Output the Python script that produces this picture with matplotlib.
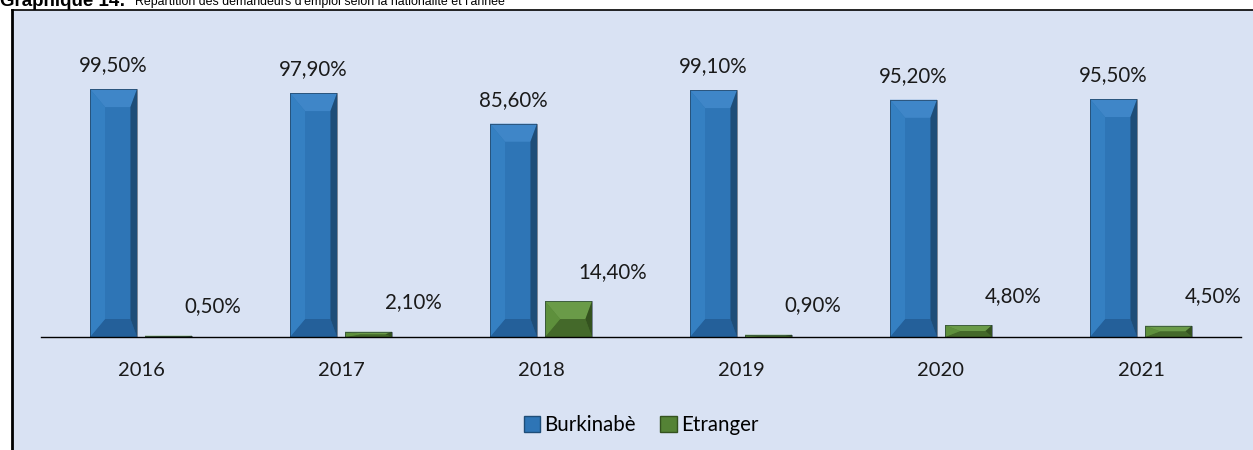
import matplotlib
matplotlib.use("Agg")
import matplotlib.pyplot as plt
from matplotlib.patches import Rectangle, Polygon
import numpy as np

years = ["2016", "2017", "2018", "2019", "2020", "2021"]
burkinabe = [99.5, 97.9, 85.6, 99.1, 95.2, 95.5]
etranger = [0.5, 2.1, 14.4, 0.9, 4.8, 4.5]
series_names = ["Burkinabè", "Etranger"]

def fmt(v):
    return f"{v:.2f}".replace(".", ",") + "%"

W, H = 1253, 450
fig = plt.figure(figsize=(W / 100, H / 100), dpi=100)
fig.patch.set_facecolor("white")

# panel background with frame
bg = Rectangle((12 / W, 0), 1 - 12 / W + 0.01, (H - 10) / H, transform=fig.transFigure,
               facecolor="#D9E2F3", edgecolor="none", zorder=-10)
fig.patches.append(bg)
fig.add_artist(plt.Line2D([12 / W, 12 / W], [0, (H - 10) / H], transform=fig.transFigure,
                          color="black", lw=2.0, zorder=-9))
fig.add_artist(plt.Line2D([12 / W, 1], [(H - 10) / H, (H - 10) / H], transform=fig.transFigure,
                          color="black", lw=1.2, zorder=-9))

# title (partly cropped at top, as in the source)
fig.text(0.0, 1 - 1.5 / H, "Graphique 14:", fontsize=13.5, fontweight="bold",
         family="Liberation Sans", va="center", ha="left")
fig.text(135 / W, 1 - 1.5 / H, "Répartition des demandeurs d'emploi selon la nationalité et l'année",
         fontsize=8.9, family="Liberation Sans", va="center", ha="left")

ax = fig.add_axes([41 / W, 113 / H, 1200 / W, 299 / H])
ax.set_facecolor("none")
ax.set_xlim(-0.5, 5.5)
ax.set_ylim(0, 120)

x = np.arange(len(years))
bw = 0.235
gap = 0.04
xb = x - (bw + gap) / 2
xe = x + (bw + gap) / 2

blue = dict(main="#2E75B6", light="#3F86C8", dark="#1E4D78", bottom="#24609A", left="#3580C2")
green = dict(main="#548235", light="#6A9B48", dark="#34521F", bottom="#44692A", left="#5E903C")

px_per_unit = 299 / 120.0

def bevel_bar(ax, xc, h, w, col):
    x0, x1 = xc - w / 2, xc + w / 2
    ax.add_patch(Rectangle((x0, 0), w, h, facecolor=col["main"], edgecolor="none", zorder=2))
    bh = min(18 / px_per_unit, h / 2)
    bwx = min(w * 0.32, w / 2)
    sw = w * 0.14
    ax.add_patch(Polygon([(x0, h), (x1, h), (x1 - sw, h - bh), (x0 + bwx, h - bh)],
                         closed=True, facecolor=col["light"], edgecolor="none", zorder=3))
    ax.add_patch(Polygon([(x0, 0), (x1, 0), (x1 - sw, bh), (x0 + bwx, bh)],
                         closed=True, facecolor=col["bottom"], edgecolor="none", zorder=3))
    ax.add_patch(Polygon([(x1, h), (x1, 0), (x1 - sw, bh), (x1 - sw, h - bh)],
                         closed=True, facecolor=col["dark"], edgecolor="none", zorder=3))
    ax.add_patch(Polygon([(x0, h), (x0, 0), (x0 + bwx, bh), (x0 + bwx, h - bh)],
                         closed=True, facecolor=col["left"], edgecolor="none", zorder=3))
    ax.add_patch(Rectangle((x0, 0), w, h, facecolor="none", edgecolor="#1a2a3a",
                           lw=0.6, zorder=4, alpha=0.6))

bars_b = ax.bar(xb, burkinabe, bw, color=blue["main"], zorder=1, label=series_names[0])
bars_e = ax.bar(xe, etranger, bw, color=green["main"], zorder=1, label=series_names[1])
for b in bars_b:
    bevel_bar(ax, b.get_x() + b.get_width() / 2, b.get_height(), b.get_width(), blue)
for b in bars_e:
    bevel_bar(ax, b.get_x() + b.get_width() / 2, b.get_height(), b.get_width(), green)

lab_font = dict(family=["Lato", "DejaVu Sans"], fontsize=14.8, color="#1a1a1a")
for xi, v in zip(xb, burkinabe):
    ax.annotate(fmt(v), (xi, v), xytext=(0, 10), textcoords="offset points",
                ha="center", va="bottom", **lab_font)
for xi, v in zip(xe, etranger):
    ax.annotate(fmt(v), (xi, v), xytext=(32, 14), textcoords="offset points",
                ha="center", va="bottom", **lab_font)

for s in ["left", "right", "top"]:
    ax.spines[s].set_visible(False)
ax.spines["bottom"].set_color("black")
ax.spines["bottom"].set_linewidth(1.0)
ax.spines["bottom"].set_zorder(5)
ax.set_yticks([])
ax.set_xticks(x)
ax.set_xticklabels(years, family=["Lato", "DejaVu Sans"], fontsize=14.5, color="#1a1a1a")
ax.tick_params(axis="x", length=0, pad=18)

leg = ax.legend(handles=[Rectangle((0, 0), 1, 1, facecolor=blue["main"], edgecolor=blue["dark"]),
                         Rectangle((0, 0), 1, 1, facecolor=green["main"], edgecolor=green["dark"])],
                labels=series_names, loc="upper center", bbox_to_anchor=(0.5, -0.2),
                ncol=2, frameon=False, handlelength=0.8, handleheight=0.8,
                handletextpad=0.2, columnspacing=1.2,
                prop=dict(family=["Lato", "DejaVu Sans"], size=14.8))

fig.savefig("out.png", dpi=100)
